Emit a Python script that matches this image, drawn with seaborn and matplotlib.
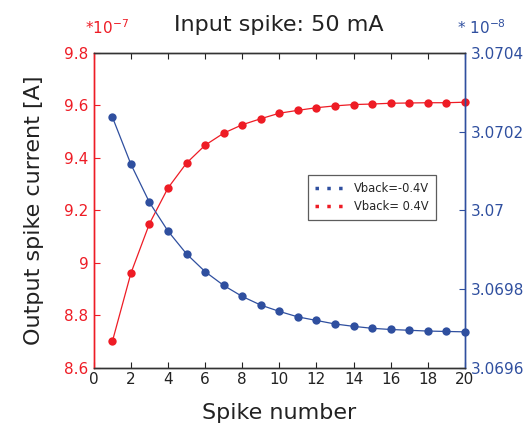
import numpy as np
import pandas as pd
import matplotlib
matplotlib.use("Agg")
import matplotlib.pyplot as plt
import seaborn as sns
from matplotlib.lines import Line2D
from matplotlib.ticker import FuncFormatter

# spike index
spike_number = list(range(1, 21))

# Vback = 0.4V, left axis, units of 1e-7 A
pos_current = [8.70, 8.96, 9.149, 9.285, 9.380, 9.448, 9.494, 9.526, 9.549, 9.570,
               9.581, 9.591, 9.598, 9.603, 9.605, 9.608, 9.609, 9.610, 9.610, 9.612]

# Vback = -0.4V, right axis, units of 1e-8 A
neg_current = [3.070237, 3.070117, 3.070020, 3.069947, 3.069889, 3.069844, 3.069809,
               3.069781, 3.069759, 3.069743, 3.069729, 3.069720, 3.069711, 3.069705,
               3.069700, 3.069697, 3.069695, 3.069693, 3.069692, 3.069691]

left_ticks = [8.6, 8.8, 9.0, 9.2, 9.4, 9.6, 9.8]
right_ticks = [3.0696, 3.0698, 3.0700, 3.0702, 3.0704]
x_ticks = list(range(0, 21, 2))

RED = "#ee1c25"
BLUE = "#2f4f9f"
TEXT = "#222222"

df = pd.DataFrame({"spike": spike_number, "pos": pos_current, "neg": neg_current})

sns.set_style("ticks")
plt.rcParams["font.family"] = ["DejaVu Sans"]

fig = plt.figure(figsize=(5.27, 4.30), dpi=100)
ax = fig.add_axes([0.178, 0.145, 0.704, 0.732])
ax2 = ax.twinx()

sns.lineplot(data=df, x="spike", y="pos", ax=ax, color=RED, marker="o",
             markersize=6, markeredgewidth=0, linewidth=0.9, clip_on=False)
sns.lineplot(data=df, x="spike", y="neg", ax=ax2, color=BLUE, marker="o",
             markersize=6, markeredgewidth=0, linewidth=0.9, clip_on=False)

fmt = FuncFormatter(lambda v, p: "%g" % round(v, 6))

ax.set_xlim(0, 20)
ax.set_ylim(8.6, 9.8)
ax.set_xticks(x_ticks)
ax.set_yticks(left_ticks)
ax.yaxis.set_major_formatter(fmt)
ax2.set_ylim(3.0696, 3.0704)
ax2.set_yticks(right_ticks)
ax2.yaxis.set_major_formatter(fmt)

ax.tick_params(axis="x", direction="in", length=4, colors=TEXT, labelsize=11,
               top=True, pad=3)
ax.tick_params(axis="y", direction="in", length=4, colors=RED, labelsize=11, pad=4)
ax2.tick_params(axis="y", direction="in", length=4, colors=BLUE, labelsize=11, pad=4)

for a in (ax, ax2):
    a.spines["top"].set_visible(True)
    a.spines["top"].set_color("#333333")
    a.spines["bottom"].set_color("#333333")
    a.spines["left"].set_color(RED)
    a.spines["right"].set_color(BLUE)
    for s in a.spines.values():
        s.set_linewidth(1.0)

ax.set_xlabel("Spike number", fontsize=16, color=TEXT, labelpad=12)
ax.set_ylabel("Output spike current [A]", fontsize=16, color=TEXT, labelpad=14)
ax2.set_ylabel("")
ax.set_title("Input spike: 50 mA", fontsize=16, color=TEXT, pad=16)

fig.text(0.162, 0.935, r"*10$^{\mathregular{-7}}$", color=RED, fontsize=11,
         ha="left", va="center")
fig.text(0.868, 0.935, r"* 10$^{\mathregular{-8}}$", color=BLUE, fontsize=11,
         ha="left", va="center")

handles = [
    Line2D([], [], color=BLUE, linestyle=(0, (1, 2.4)), linewidth=2.5),
    Line2D([], [], color=RED, linestyle=(0, (1, 2.4)), linewidth=2.5),
]
leg = ax2.legend(handles, ["Vback=-0.4V", "Vback= 0.4V"], loc="upper left",
                 bbox_to_anchor=(0.562, 0.63), fontsize=8.3, frameon=True,
                 fancybox=False, handlelength=2.4, borderpad=0.6,
                 labelspacing=0.4, handletextpad=1.0)
leg.get_frame().set_edgecolor("#333333")
leg.get_frame().set_linewidth(0.9)

fig.savefig("out.png", dpi=100)
